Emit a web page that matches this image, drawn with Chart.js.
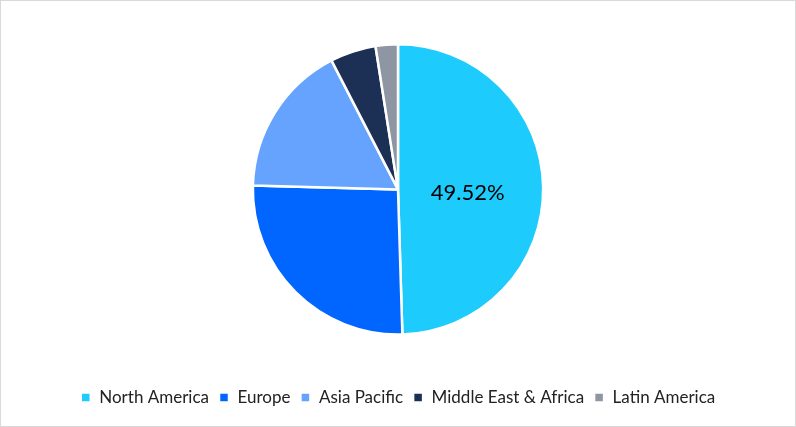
<!DOCTYPE html>
<html>
<head>
<meta charset="utf-8">
<script src="https://cdn.jsdelivr.net/npm/chart.js@4"></script>
<style>
  html, body { margin: 0; padding: 0; background: #fff; }
  #wrap { position: absolute; left: 0; top: 0; width: 794px; height: 425px; border: 1px solid #d9d9d9; }
</style>
</head>
<body>
<div id="wrap"><canvas id="regionChart"></canvas></div>
<script>
const regions = ["North America", "Europe", "Asia Pacific", "Middle East & Africa", "Latin America"];
const shares = [49.52, 25.9, 17.0, 5.1, 2.48];
const sliceColors = ["#1ecbfd", "#0066ff", "#66a3ff", "#1c2f55", "#8e95a3"];

// draws the share text inside big slices
const sliceLabels = {
  id: "sliceLabels",
  afterDatasetsDraw(chart) {
    const ctx = chart.ctx;
    const meta = chart.getDatasetMeta(0);
    const total = shares.reduce((a, b) => a + b, 0);
    meta.data.forEach((arc, i) => {
      const pct = shares[i] / total * 100;
      if (pct < 40) return;
      const mid = (arc.startAngle + arc.endAngle) / 2;
      const r = arc.outerRadius * 0.48;
      ctx.save();
      ctx.font = "22px Lato, 'Open Sans', sans-serif";
      ctx.fillStyle = "#000";
      ctx.textAlign = "center";
      ctx.textBaseline = "middle";
      ctx.fillText(shares[i].toFixed(2) + "%", arc.x + Math.cos(mid) * r, arc.y + Math.sin(mid) * r + 5);
      ctx.restore();
    });
  },
};

Chart.defaults.font.family = "Lato, 'Open Sans', sans-serif";
Chart.defaults.color = "#222";

new Chart(document.getElementById("regionChart"), {
  type: "pie",
  data: {
    labels: regions,
    datasets: [{ data: shares, backgroundColor: sliceColors, borderColor: "#fff", borderWidth: 2.5 }],
  },
  options: {
    responsive: true,
    maintainAspectRatio: false,
    animation: false,
    layout: { padding: { top: 42, bottom: 10 } },
    plugins: {
      legend: {
        position: "bottom",
        title: { display: true, text: "", font: { size: 1 }, padding: { top: 0, bottom: 42 } },
        labels: { boxWidth: 10, boxHeight: 10, padding: 10, font: { size: 17 }, color: "#222" },
      },
      tooltip: { enabled: false },
    },
  },
  plugins: [sliceLabels],
});
</script>
</body>
</html>
